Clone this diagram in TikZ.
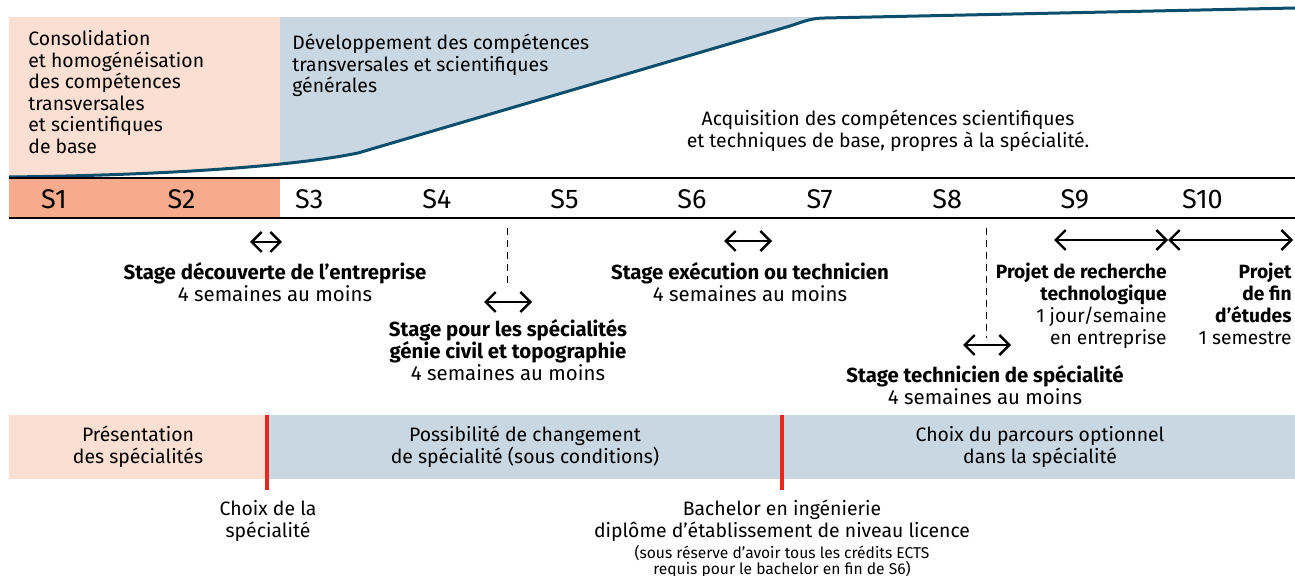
\documentclass[tikz,border=0pt]{standalone}
\usepackage{fontspec}
\setmainfont{Fira Sans}
\usetikzlibrary{arrows.meta}
\definecolor{rose}{HTML}{FBDFD2}
\definecolor{saumon}{HTML}{F5AB8C}
\definecolor{bleu}{HTML}{C9D7E3}
\definecolor{courbe}{HTML}{0B4F6C}
\definecolor{rouge}{HTML}{E8281E}
\tikzset{
  txt/.style={font=\fontsize{9.7}{10.75}\selectfont, inner sep=0pt, align=center},
  stagetxt/.style={font=\fontsize{10.2}{11}\selectfont, inner sep=0pt, align=center},
  projtxt/.style={font=\fontsize{9.6}{11}\selectfont, inner sep=0pt, align=right},
  sem/.style={font=\fontsize{13.5}{15}\selectfont, inner sep=0pt},
  fleche/.style={line width=1.2pt, {Straight Barb[length=5pt,width=10pt]}-{Straight Barb[length=5pt,width=10pt]}},
  tirets/.style={line width=0.5pt, dash pattern=on 3.5pt off 2.5pt},
  jalon/.style={rouge, line width=2pt}
}
\begin{document}
\begin{tikzpicture}[x=0.5pt,y=-0.5pt]
\useasboundingbox (0,0) rectangle (1295,576);

% zones du haut
\fill[rose] (9,17) rectangle (280,178);
\fill[bleu] (280,17) rectangle (830,178);
\fill[white] (9,177) .. controls (180,175) and (300,165) .. (358,153)
  -- (790,26) .. controls (805,21) and (812,18) .. (825,18) -- (1295,8)
  -- (1295,178) -- (9,178) -- cycle;
\draw[courbe, line width=1.5pt] (9,177) .. controls (180,175) and (300,165) .. (358,153)
  -- (790,26) .. controls (805,21) and (812,18) .. (825,18) -- (1295,8);

\node[txt, align=left, anchor=north west] (consol) at (28,30)
  {Consolidation\\et homogénéisation\\des compétences\\transversales\\et scientifiques\\de base};
\node[txt, align=left, anchor=north west] (devel) at (292,34)
  {Développement des compétences\\transversales et scientifiques\\générales};
\node[txt, anchor=north] (acq) at (888,110)
  {Acquisition des compétences scientifiques\\et techniques de base, propres à la spécialité.};

% semestres
\fill[saumon] (9,178) rectangle (280,218);
\draw[line width=0.75pt] (9,178) -- (1295,178) (9,218) -- (1295,218);
\foreach \i in {1,...,10}
  \node[sem] (s\i) at ({54+(\i-1)*127.6},199) {S\i};

% stages
\coordinate (a1l) at (250,242); \coordinate (a1r) at (282,242);
\draw[fleche] (a1l) -- (a1r);
\node[stagetxt, anchor=north] (stage1) at (275,262)
  {\bfseries Stage découverte de l’entreprise\\4 semaines au moins};

\coordinate (d1h) at (507,228); \coordinate (d1b) at (507,284);
\draw[tirets] (d1h) -- (d1b);
\coordinate (a2l) at (484,302); \coordinate (a2r) at (532,302);
\draw[fleche] (a2l) -- (a2r);
\node[stagetxt, anchor=north] (stage2) at (508,319)
  {\bfseries Stage pour les spécialités\\\bfseries génie civil et topographie\\4 semaines au moins};

\coordinate (a3l) at (724,241); \coordinate (a3r) at (772,241);
\draw[fleche] (a3l) -- (a3r);
\node[stagetxt, anchor=north] (stage3) at (750,262)
  {\bfseries Stage exécution ou technicien\\4 semaines au moins};

\coordinate (d2h) at (986,228); \coordinate (d2b) at (986,338);
\draw[tirets] (d2h) -- (d2b);
\coordinate (a4l) at (963,345); \coordinate (a4r) at (1011,345);
\draw[fleche] (a4l) -- (a4r);
\node[stagetxt, anchor=north] (stage4) at (985,365)
  {\bfseries Stage technicien de spécialité\\4 semaines au moins};

\coordinate (p1l) at (1054,240); \coordinate (p1r) at (1168,240);
\coordinate (p2r) at (1293,240);
\draw[fleche] (p1l) -- (p1r);
\draw[fleche] (p1r) -- (p2r);
\node[projtxt, anchor=north east] (projet1) at (1167,263)
  {\bfseries Projet de recherche\\\bfseries technologique\\1 jour/semaine\\en entreprise};
\node[projtxt, anchor=north east] (projet2) at (1292,263)
  {\bfseries Projet\\\bfseries de fin\\\bfseries d’études\\1 semestre};

% bandeau du bas
\fill[rose] (9,415) rectangle (267,479);
\fill[bleu] (267,415) rectangle (1295,479);
\draw[jalon] (267,415) -- (267,490);
\draw[jalon] (782,415) -- (782,490);
\node[txt, anchor=north] (pres) at (138,426) {Présentation\\des spécialités};
\node[txt, anchor=north] (poss) at (525,426) {Possibilité de changement\\de spécialité (sous conditions)};
\node[txt, anchor=north] (parcours) at (1040,426) {Choix du parcours optionnel\\dans la spécialité};
\node[txt, anchor=north] (choix) at (268,500) {Choix de la\\spécialité};
\node[txt, anchor=north] (bach) at (782,500) {Bachelor en ingénierie\\diplôme d’établissement de niveau licence};
\node[txt, font=\fontsize{7.8}{8}\selectfont, anchor=north] (reserve) at (782,545)
  {(sous réserve d’avoir tous les crédits ECTS\\requis pour le bachelor en fin de S6)};
\end{tikzpicture}
\end{document}
